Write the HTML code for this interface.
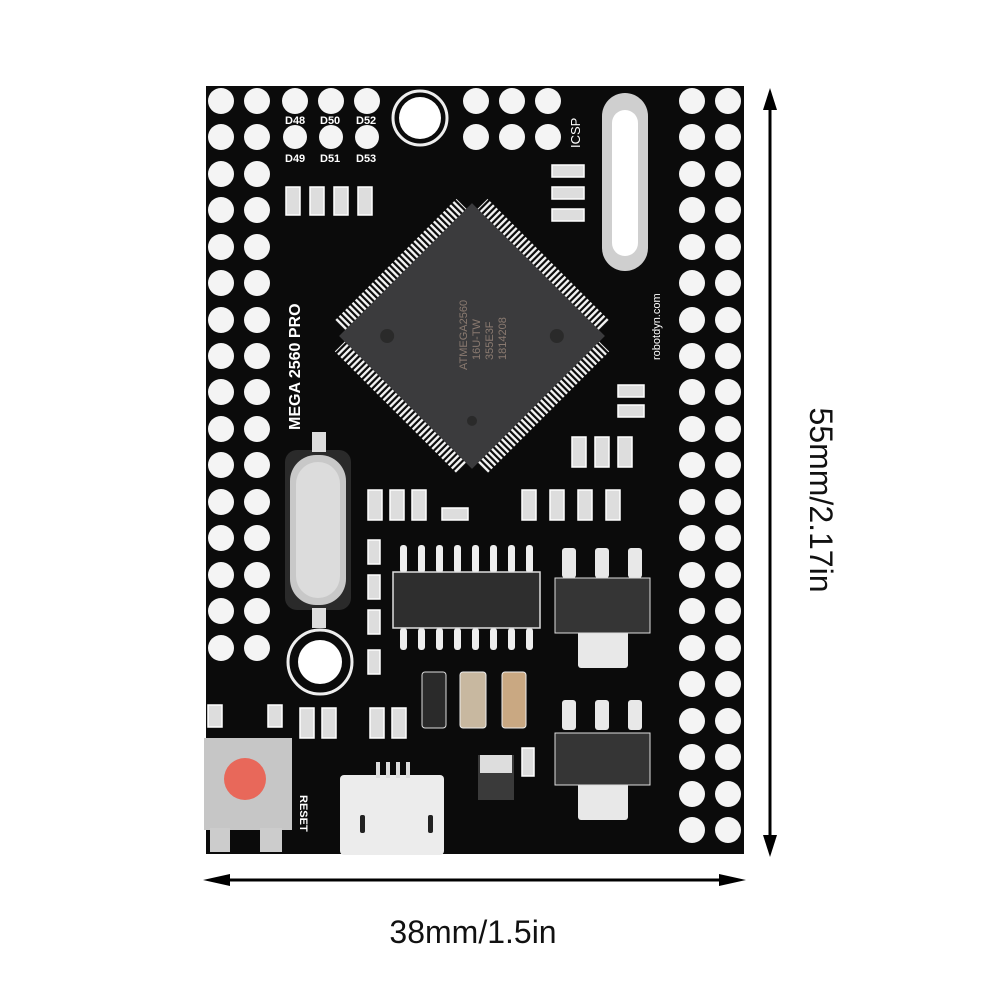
<!DOCTYPE html>
<html><head><meta charset="utf-8"><style>
html,body{margin:0;padding:0;background:#fff;width:1001px;height:1001px;overflow:hidden}
svg{display:block}
text{font-family:"Liberation Sans",sans-serif}
</style></head><body>
<svg width="1001" height="1001" viewBox="0 0 1001 1001" xmlns="http://www.w3.org/2000/svg">
<defs>
<pattern id="st" width="4.6" height="10" patternUnits="userSpaceOnUse"><rect width="2.4" height="10" fill="#f2f2f2"/></pattern>
</defs>
<rect width="1001" height="1001" fill="#fff"/>
<rect x="206" y="86" width="538" height="768" fill="#0b0b0b"/>
<g fill="#f4f4f4">
<g id="lp">
<circle cx="221" cy="101" r="13"/><circle cx="257" cy="101" r="13"/>
<circle cx="221" cy="137" r="13"/><circle cx="257" cy="137" r="13"/>
<circle cx="221" cy="174" r="13"/><circle cx="257" cy="174" r="13"/>
<circle cx="221" cy="210" r="13"/><circle cx="257" cy="210" r="13"/>
<circle cx="221" cy="247" r="13"/><circle cx="257" cy="247" r="13"/>
<circle cx="221" cy="283" r="13"/><circle cx="257" cy="283" r="13"/>
<circle cx="221" cy="320" r="13"/><circle cx="257" cy="320" r="13"/>
<circle cx="221" cy="356" r="13"/><circle cx="257" cy="356" r="13"/>
<circle cx="221" cy="392" r="13"/><circle cx="257" cy="392" r="13"/>
<circle cx="221" cy="429" r="13"/><circle cx="257" cy="429" r="13"/>
<circle cx="221" cy="465" r="13"/><circle cx="257" cy="465" r="13"/>
<circle cx="221" cy="502" r="13"/><circle cx="257" cy="502" r="13"/>
<circle cx="221" cy="538" r="13"/><circle cx="257" cy="538" r="13"/>
<circle cx="221" cy="575" r="13"/><circle cx="257" cy="575" r="13"/>
<circle cx="221" cy="611" r="13"/><circle cx="257" cy="611" r="13"/>
<circle cx="221" cy="648" r="13"/><circle cx="257" cy="648" r="13"/>
</g>
<g transform="translate(471,0)"><use href="#lp"/></g>
<g transform="translate(471,0)">
<circle cx="221" cy="684" r="13"/><circle cx="257" cy="684" r="13"/>
<circle cx="221" cy="721" r="13"/><circle cx="257" cy="721" r="13"/>
<circle cx="221" cy="757" r="13"/><circle cx="257" cy="757" r="13"/>
<circle cx="221" cy="794" r="13"/><circle cx="257" cy="794" r="13"/>
<circle cx="221" cy="830" r="13"/><circle cx="257" cy="830" r="13"/>
</g>
<circle cx="295" cy="101" r="13"/><circle cx="331" cy="101" r="13"/><circle cx="367" cy="101" r="13"/>
<circle cx="295" cy="137" r="12"/><circle cx="331" cy="137" r="12"/><circle cx="367" cy="137" r="12"/>
<circle cx="476" cy="101" r="13"/><circle cx="512" cy="101" r="13"/><circle cx="548" cy="101" r="13"/>
<circle cx="476" cy="137" r="13"/><circle cx="512" cy="137" r="13"/><circle cx="548" cy="137" r="13"/>
</g>
<circle cx="420" cy="118" r="27" fill="none" stroke="#eee" stroke-width="3"/>
<circle cx="420" cy="118" r="21" fill="#fff"/>
<circle cx="320" cy="662" r="32" fill="none" stroke="#eee" stroke-width="3"/>
<circle cx="320" cy="662" r="22" fill="#fff"/>
<rect x="602" y="93" width="46" height="178" rx="23" fill="#cfcfcf"/>
<rect x="612" y="110" width="26" height="146" rx="13" fill="#fff"/>
<rect x="285" y="450" width="66" height="160" rx="12" fill="#2a2a2a"/>
<rect x="290" y="455" width="56" height="150" rx="26" fill="#c8c8c8"/>
<rect x="296" y="462" width="44" height="136" rx="22" fill="#dcdcdc"/>
<rect x="312" y="432" width="14" height="20" fill="#ddd"/>
<rect x="312" y="608" width="14" height="20" fill="#ddd"/>
<g transform="translate(472,336) rotate(45)">
<rect x="-86" y="-108" width="172" height="16" fill="url(#st)"/>
<rect x="-86" y="92" width="172" height="16" fill="url(#st)"/>
<g transform="rotate(90)">
<rect x="-86" y="-108" width="172" height="16" fill="url(#st)"/>
<rect x="-86" y="92" width="172" height="16" fill="url(#st)"/>
</g>
<rect x="-94" y="-94" width="188" height="188" fill="#3b3b3d"/>
<circle cx="-60" cy="60" r="7" fill="#2a2a2a"/><circle cx="60" cy="-60" r="7" fill="#2a2a2a"/><circle cx="60" cy="60" r="5" fill="#2a2a2a"/>
</g>
<g transform="translate(475,340) rotate(-90)" fill="#8a7a70" font-size="11">
<text x="-30" y="-8">ATMEGA2560</text><text x="-20" y="5">16U-TW</text><text x="-20" y="18">355E3F</text><text x="-20" y="31">1814208</text>
</g>
<g fill="#eee">
<rect x="400" y="545" width="7" height="28" rx="3"/><rect x="418" y="545" width="7" height="28" rx="3"/><rect x="436" y="545" width="7" height="28" rx="3"/><rect x="454" y="545" width="7" height="28" rx="3"/><rect x="472" y="545" width="7" height="28" rx="3"/><rect x="490" y="545" width="7" height="28" rx="3"/><rect x="508" y="545" width="7" height="28" rx="3"/><rect x="526" y="545" width="7" height="28" rx="3"/>
<rect x="400" y="628" width="7" height="22" rx="3"/><rect x="418" y="628" width="7" height="22" rx="3"/><rect x="436" y="628" width="7" height="22" rx="3"/><rect x="454" y="628" width="7" height="22" rx="3"/><rect x="472" y="628" width="7" height="22" rx="3"/><rect x="490" y="628" width="7" height="22" rx="3"/><rect x="508" y="628" width="7" height="22" rx="3"/><rect x="526" y="628" width="7" height="22" rx="3"/>
</g>
<rect x="393" y="572" width="147" height="56" fill="#2e2e2e" stroke="#ddd" stroke-width="1.5"/>
<g fill="#e8e8e8">
<rect x="562" y="548" width="14" height="30" rx="3"/><rect x="595" y="548" width="14" height="30" rx="3"/><rect x="628" y="548" width="14" height="30" rx="3"/>
<rect x="578" y="630" width="50" height="38" rx="3"/>
<rect x="562" y="700" width="14" height="30" rx="3"/><rect x="595" y="700" width="14" height="30" rx="3"/><rect x="628" y="700" width="14" height="30" rx="3"/>
<rect x="578" y="782" width="50" height="38" rx="3"/>
</g>
<rect x="555" y="578" width="95" height="55" fill="#353535" stroke="#ddd"/>
<rect x="555" y="733" width="95" height="52" fill="#353535" stroke="#ddd"/>
<g fill="#ddd" stroke="#fff" stroke-width="1.5">
<rect x="286" y="187" width="14" height="28"/><rect x="310" y="187" width="14" height="28"/><rect x="334" y="187" width="14" height="28"/><rect x="358" y="187" width="14" height="28"/>
<rect x="552" y="165" width="32" height="12"/><rect x="552" y="187" width="32" height="12"/><rect x="552" y="209" width="32" height="12"/>
<rect x="572" y="437" width="14" height="30"/><rect x="595" y="437" width="14" height="30"/><rect x="618" y="437" width="14" height="30"/>
<rect x="618" y="405" width="26" height="12"/><rect x="618" y="385" width="26" height="12"/>
<rect x="522" y="490" width="14" height="30"/><rect x="550" y="490" width="14" height="30"/><rect x="578" y="490" width="14" height="30"/><rect x="606" y="490" width="14" height="30"/>
<rect x="368" y="490" width="14" height="30"/><rect x="390" y="490" width="14" height="30"/><rect x="412" y="490" width="14" height="30"/>
<rect x="442" y="508" width="26" height="12"/>
<rect x="368" y="540" width="12" height="24"/><rect x="368" y="575" width="12" height="24"/><rect x="368" y="610" width="12" height="24"/><rect x="368" y="650" width="12" height="24"/>
<rect x="300" y="708" width="14" height="30"/><rect x="322" y="708" width="14" height="30"/>
<rect x="370" y="708" width="14" height="30"/><rect x="392" y="708" width="14" height="30"/>
<rect x="208" y="705" width="14" height="22"/><rect x="268" y="705" width="14" height="22"/>
<rect x="522" y="748" width="12" height="28"/>
</g>
<rect x="422" y="672" width="24" height="56" rx="3" fill="#2a2a2a" stroke="#ddd"/>
<rect x="460" y="672" width="26" height="56" rx="3" fill="#c8b8a0" stroke="#eee"/>
<rect x="502" y="672" width="24" height="56" rx="3" fill="#c9a882" stroke="#eee"/>
<rect x="478" y="755" width="36" height="45" fill="#3a3a3a"/>
<rect x="480" y="755" width="32" height="18" fill="#ddd"/>
<rect x="204" y="738" width="88" height="92" fill="#c6c6c6"/>
<circle cx="245" cy="779" r="21" fill="#e8685a"/>
<rect x="210" y="828" width="20" height="24" fill="#ccc"/><rect x="260" y="828" width="22" height="24" fill="#ccc"/>
<rect x="340" y="775" width="104" height="80" rx="4" fill="#ececec"/>
<rect x="360" y="815" width="5" height="18" fill="#222" rx="2"/><rect x="428" y="815" width="5" height="18" fill="#222" rx="2"/>
<g fill="#ddd"><rect x="376" y="762" width="4" height="16"/><rect x="386" y="762" width="4" height="16"/><rect x="396" y="762" width="4" height="16"/><rect x="406" y="762" width="4" height="16"/></g>
<g fill="#fff" font-size="11" font-weight="bold">
<text x="285" y="124">D48</text><text x="320" y="124">D50</text><text x="356" y="124">D52</text>
<text x="285" y="162">D49</text><text x="320" y="162">D51</text><text x="356" y="162">D53</text>
<text x="290" y="805" transform="rotate(90 300 805)">RESET</text>
</g>
<g transform="translate(300,430) rotate(-90)" fill="#fff" font-size="16" font-weight="bold"><text x="0" y="0">MEGA 2560 PRO</text></g>
<g transform="translate(660,360) rotate(-90)" fill="#fff" font-size="11"><text x="0" y="0">robotdyn.com</text></g>
<g transform="translate(580,148) rotate(-90)" fill="#fff" font-size="13"><text>ICSP</text></g>
<g stroke="#000" stroke-width="3">
<line x1="770" y1="100" x2="770" y2="845"/>
<line x1="215" y1="880" x2="735" y2="880"/>
</g>
<polygon points="770,88 763,110 777,110" fill="#000"/>
<polygon points="770,857 763,835 777,835" fill="#000"/>
<polygon points="203,880 230,874 230,886" fill="#000"/>
<polygon points="746,880 719,874 719,886" fill="#000"/>
<text x="473" y="943" font-size="32" text-anchor="middle" fill="#111">38mm/1.5in</text>
<text transform="translate(810,500) rotate(90)" font-size="32" text-anchor="middle" fill="#111">55mm/2.17in</text>
</svg>
</body></html>
